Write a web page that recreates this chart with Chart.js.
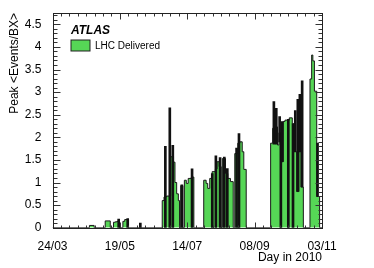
<!DOCTYPE html>
<html>
<head>
<meta charset="utf-8">
<script src="https://cdn.jsdelivr.net/npm/chart.js@4"></script>
<style>
  body { margin: 0; background: #fff; }
</style>
</head>
<body>
<canvas id="mu" width="374" height="268"></canvas>
<script>
// x values are day of year 2010 (24/03 = day 83)
const binStart = [83, 113.7, 117.6, 126.8, 131, 133.7, 135.2, 136.6, 138.7, 141.5, 143, 146.2,
  174.2, 175.7, 177.8, 181.2, 183.6, 184.8, 186.2, 187.6, 188.6, 189.6, 191.4,
  192.6, 194.2, 195.8, 198.4, 200.5,
  208.7, 210.7, 212, 213.7, 215.7, 218.4, 219.8, 221.5, 223.2, 224.2, 226.8, 228.7, 230.9, 233.2,
  234.5, 237, 238.7, 240.7, 242, 244,
  264.3, 266, 268, 270, 271.2, 272.6, 273.2, 274.8, 276.2, 279.8, 282.3, 283.7, 285.9, 287.8, 289.5, 291.5,
  297, 298.4, 299.4, 300.7, 302.6, 305, 307];
const binValue = [0, 0.05, 0, 0.15, 0, 0.12, 0.13, 0.14, 0, 0.14, 0.18, 0,
  0.6, 0.68, 0.7, 1.57, 1.45, 1.0, 0.75, 0.6, 0, 0.93, 0,
  1.05, 0.98, 1.09, 1.12, 0,
  1.05, 0.98, 0.87, 1.09, 1.24, 1.3, 1.46, 1.35, 0, 1.53, 1.2, 1.09, 1.02, 0,
  1.64, 1.87, 1.9, 1.68, 1.29, 0,
  1.87, 2.2, 2.23, 1.83, 2.1, 2.0, 1.46, 2.35, 2.38, 2.43, 2.3, 1.68, 0.8, 1.68, 0.9, 0,
  3.29, 3.82, 3.69, 3.02, 0.69, 0, 0];

// narrow bins that show up as black spikes
const spikeDay = [138, 145.5, 156, 176.8, 180.5, 183, 190.5, 199, 215.8, 218.8, 222.3, 225.8, 228.3,
  236, 238, 267, 269, 271.8, 272.8, 274, 279, 282.9, 284.8, 286.9, 288.6, 290.5, 303.3];
const spikeLow = [0, 0, 0, 0, 0, 0, 0, 0, 0, 0, 0, 0, 0,
  0, 0, 1.85, 1.85, 1.9, 0, 1.46, 0, 0, 1.68, 0.8, 1.68, 0.9, 0.69];
const spikeHigh = [0.19, 0.2, 0.1, 1.8, 2.65, 1.82, 0.95, 1.3, 1.2, 1.59, 1.55, 1.56, 1.31,
  1.76, 2.08, 2.79, 2.64, 2.46, 2.05, 2.35, 2.4, 2.3, 2.59, 2.84, 2.95, 3.25, 1.87];

const xTickDays = [83, 139, 195, 251, 307];
const yTickVals = [0, 0.5, 1, 1.5, 2, 2.5, 3, 3.5, 4, 4.5];

const FONT = '"Liberation Sans", Arial, sans-serif';

function dayLabel(d) {
  const dt = new Date(2010, 0, d);
  const dd = String(dt.getDate()).padStart(2, '0');
  const mm = String(dt.getMonth() + 1).padStart(2, '0');
  return dd + '/' + mm;
}

// ROOT style frame with inward ticks on all four sides
const rootFrame = {
  id: 'rootFrame',
  afterDatasetsDraw(chart) {
    const { ctx, chartArea: a, scales: { x, y } } = chart;
    const L = Math.round(a.left) + 0.5, R = Math.round(a.right) + 0.5;
    const T = Math.round(a.top) + 0.5, B = Math.round(a.bottom) + 0.5;
    ctx.save();
    ctx.strokeStyle = '#333';
    ctx.lineWidth = 1;
    ctx.beginPath();
    for (let d = 83; d <= 307; d += 7) {
      const px = Math.round(x.getPixelForValue(d)) + 0.5;
      const len = (d - 83) % 56 === 0 ? 6 : 3;
      ctx.moveTo(px, B); ctx.lineTo(px, B - len);
      ctx.moveTo(px, T); ctx.lineTo(px, T + len);
    }
    for (let i = 0; i <= 47; i++) {
      const py = Math.round(y.getPixelForValue(i / 10)) + 0.5;
      const len = i % 5 === 0 ? 7 : 4;
      ctx.moveTo(L, py); ctx.lineTo(L + len, py);
      ctx.moveTo(R, py); ctx.lineTo(R - len, py);
    }
    ctx.stroke();
    ctx.strokeStyle = '#222';
    ctx.strokeRect(L, T, R - L, B - T);

    // label and legend
    ctx.fillStyle = '#000';
    ctx.font = 'italic bold 12px ' + FONT;
    ctx.textBaseline = 'alphabetic';
    ctx.fillText('ATLAS', a.left + 18.5, a.top + 20.5);
    ctx.fillStyle = '#56d656';
    ctx.fillRect(a.left + 18.5, a.top + 27, 19, 11);
    ctx.strokeStyle = '#222';
    ctx.strokeRect(a.left + 18.5, a.top + 27, 19, 11);
    ctx.fillStyle = '#000';
    ctx.font = '10px ' + FONT;
    ctx.textBaseline = 'middle';
    ctx.fillText('LHC Delivered', a.left + 42.5, a.top + 33);
    ctx.restore();
  }
};

new Chart(document.getElementById('mu'), {
  type: 'bar',
  data: {
    datasets: [
      {
        type: 'bar',
        label: 'spikes',
        data: spikeDay.map((d, i) => ({ x: d, y: [spikeLow[i], spikeHigh[i]] })),
        backgroundColor: '#111',
        borderWidth: 0,
        barThickness: 2,
        order: 0
      },
      {
        type: 'line',
        label: 'LHC Delivered',
        data: binStart.map((d, i) => ({ x: d, y: binValue[i] })),
        stepped: true,
        fill: 'origin',
        backgroundColor: '#56d656',
        borderColor: '#1a1a1a',
        borderWidth: 1,
        pointRadius: 0,
        order: 1
      }
    ]
  },
  options: {
    responsive: false,
    animation: false,
    devicePixelRatio: 1,
    layout: { padding: { top: 13, right: 52, left: 0, bottom: 0 } },
    plugins: { legend: { display: false }, tooltip: { enabled: false } },
    scales: {
      x: {
        type: 'linear',
        min: 83,
        max: 307,
        offset: false,
        grid: { display: false },
        border: { display: false },
        afterBuildTicks: s => { s.ticks = xTickDays.map(v => ({ value: v })); },
        afterFit: s => { s.height = 40.3; },
        ticks: {
          padding: 4,
          maxRotation: 0,
          autoSkip: false,
          color: '#000',
          font: { family: FONT, size: 12 },
          callback: v => dayLabel(v)
        },
        title: {
          display: true,
          text: 'Day in 2010',
          align: 'end',
          color: '#000',
          font: { family: FONT, size: 12 },
          padding: { top: 0, bottom: 3 }
        }
      },
      y: {
        min: 0,
        max: 4.75,
        grid: { display: false },
        border: { display: false },
        afterBuildTicks: s => { s.ticks = yTickVals.map(v => ({ value: v })); },
        afterFit: s => { s.width = 52.5; },
        ticks: {
          padding: 3,
          color: '#000',
          font: { family: FONT, size: 12 },
          callback: v => String(v)
        },
        title: {
          display: true,
          text: 'Peak <Events/BX>',
          align: 'end',
          color: '#000',
          font: { family: FONT, size: 12 },
          padding: { top: 7, bottom: 0 }
        }
      }
    }
  },
  plugins: [rootFrame]
});
</script>
</body>
</html>
